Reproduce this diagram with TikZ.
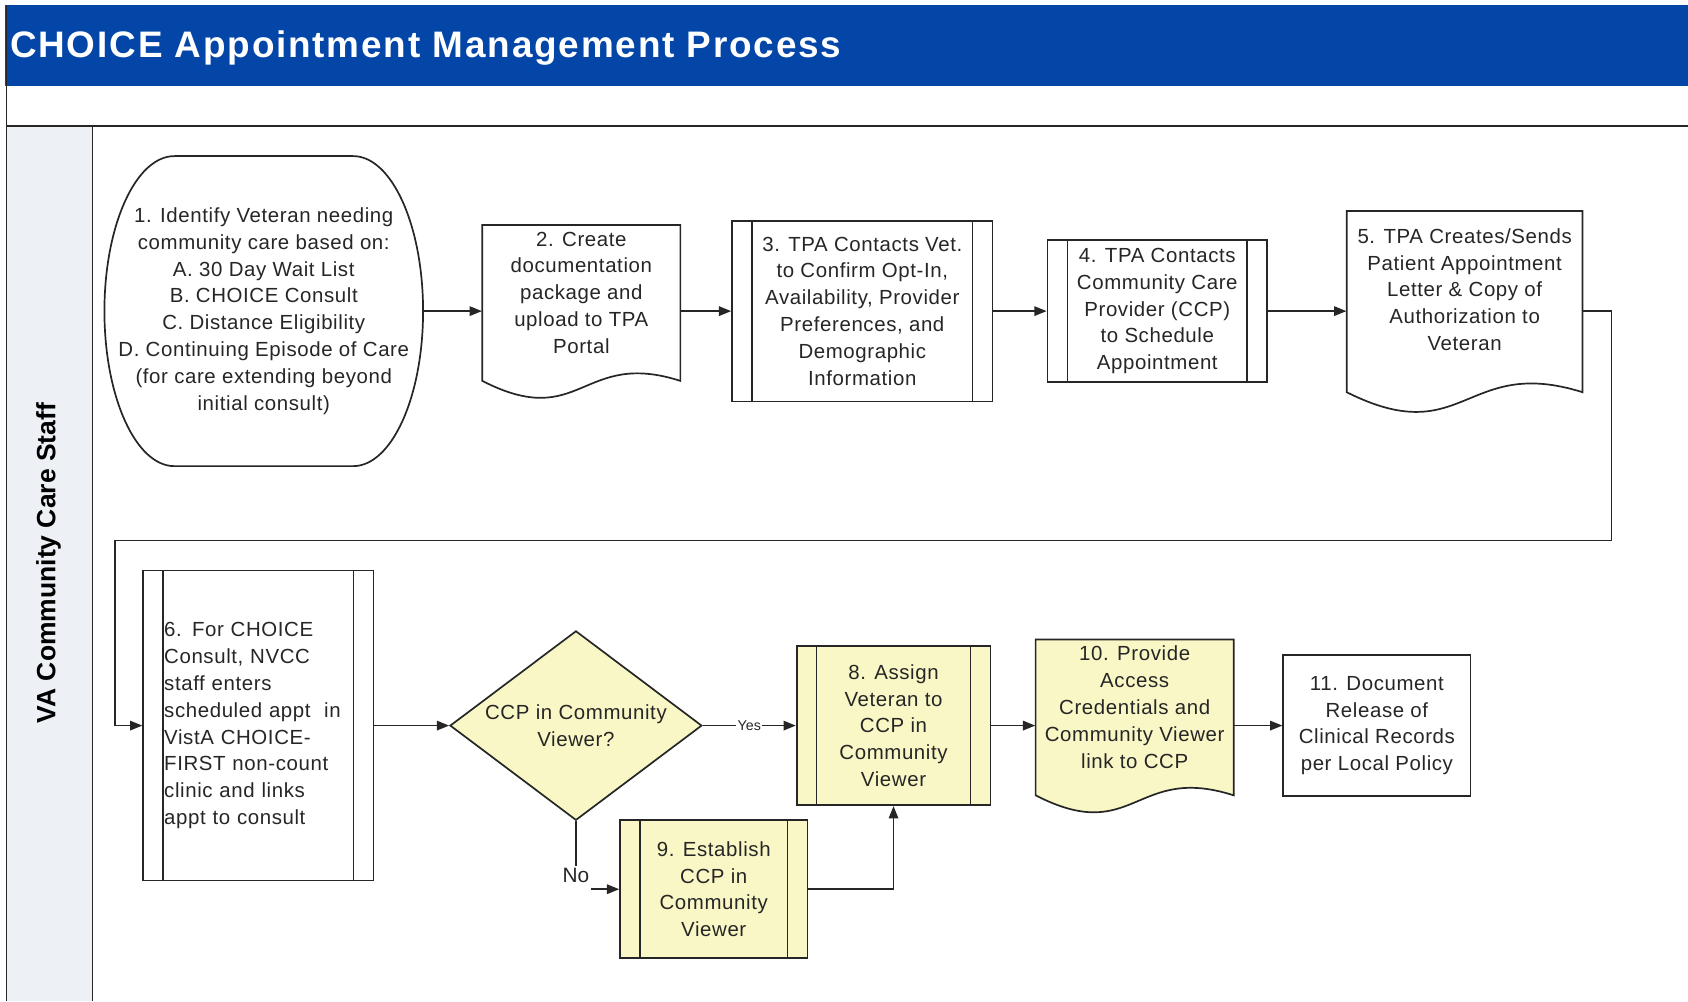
\documentclass[tikz,border=0pt]{standalone}
\usepackage{fontspec}
\setmainfont{Liberation Sans}
\usetikzlibrary{arrows.meta,shapes.geometric}
\definecolor{vablue}{RGB}{4,70,168}
\definecolor{lanegray}{RGB}{237,240,245}
\definecolor{stepyellow}{RGB}{250,247,198}
\definecolor{inkgray}{RGB}{38,38,38}
\newcommand{\docshape}[5]{%
  \draw [line, fill=#1] (#2,#4) -- (#3,#4) -- (#3,{#4+0.905*(#5-#4)})
    .. controls ({(#2+#3)/2},{#4+0.72*(#5-#4)}) and ({(#2+#3)/2},{#4+1.2*(#5-#4)}) .. (#2,{#4+0.905*(#5-#4)}) -- cycle ;}
\begin{document}
\begin{tikzpicture}[x=0.02cm, y=-0.02cm,
    line/.style={draw=inkgray, line width=0.9pt},
    txt/.style={text=inkgray, align=center, inner sep=0pt,
      font=\fontsize{10.8}{14.2}\selectfont\addfontfeature{LetterSpace=3}},
    procbox/.style={txt, line, fill=white},
    subproc/.style={procbox, path picture={
      \draw [line] ([xshift=0.37cm]path picture bounding box.north west) -- ([xshift=0.37cm]path picture bounding box.south west) ;
      \draw [line] ([xshift=-0.37cm]path picture bounding box.north east) -- ([xshift=-0.37cm]path picture bounding box.south east) ;}},
    decision/.style={txt, line, diamond, shape aspect=1.33, fill=stepyellow},
    arr/.style={line, -{Triangle[length=6.5pt, width=5pt]}},
    yeslbl/.style={text=inkgray, fill=white, inner sep=0.8pt, font=\fontsize{7.5}{9}\selectfont},
    nolbl/.style={text=inkgray, fill=white, inner sep=1pt, text height=8pt, text depth=15pt, font=\fontsize{11}{13}\selectfont},
  ]
  \useasboundingbox (0,0) rectangle (1568,930) ;
  \fill [vablue] (5,5) rectangle (1568,80) ;
  \fill [lanegray] (6,117) rectangle (86,930) ;
  \draw [line] (6,5) -- (6,930) ;
  \draw [line] (6,117) -- (1568,117) ;
  \draw [line] (86,117) -- (86,930) ;
  \node [text=white, inner sep=0pt, anchor=base west, font=\fontsize{19.5}{22}\selectfont\bfseries\addfontfeature{LetterSpace=5}] (title) at (9,53) {CHOICE Appointment Management Process} ;
  \node [text=black, rotate=90, font=\fontsize{14}{16}\selectfont\bfseries] (lane) at (45,523) {VA Community Care Staff} ;

  \draw [line, fill=white] (162,145) -- (328,145) arc [start angle=-90, end angle=90, x radius=65, y radius=144] -- (162,433) arc [start angle=90, end angle=270, x radius=65, y radius=144] -- cycle ;
  \node [txt, minimum width=5.92cm, minimum height=5.76cm] (n1) at (245,289) {1. Identify Veteran needing\\community care based on:\\A. 30 Day Wait List\\B. CHOICE Consult\\C. Distance Eligibility\\D. Continuing Episode of Care\\(for care extending beyond\\initial consult)} ;
  \docshape{white}{448}{632}{209}{369}
  \node [txt, minimum width=3.68cm, minimum height=3.2cm] (n2) at (540,289) {} ;
  \node [txt] (t2) at (540,272) {2. Create\\documentation\\package and\\upload to TPA\\Portal} ;
  \node [subproc, minimum width=4.84cm, minimum height=3.36cm] (n3) at (801,289) {3. TPA Contacts Vet.\\to Confirm Opt-In,\\Availability, Provider\\Preferences, and\\Demographic\\Information} ;
  \node [subproc, minimum width=4.08cm, minimum height=2.64cm] (n4) at (1075,289) {4. TPA Contacts\\Community Care\\Provider (CCP)\\to Schedule\\Appointment} ;
  \docshape{white}{1251}{1470}{196}{382}
  \node [txt, minimum width=4.38cm, minimum height=3.72cm] (n5) at (1360.5,289) {} ;
  \node [txt] (t5) at (1360.5,269) {5. TPA Creates/Sends\\Patient Appointment\\Letter \& Copy of\\Authorization to\\Veteran} ;

  \node [subproc, text width=3.5cm, align=left, minimum width=4.28cm, minimum height=5.76cm] (n6) at (240,674) {6. For CHOICE\\Consult, NVCC\\staff enters\\scheduled appt~ in\\VistA CHOICE-\\FIRST non-count\\clinic and links\\appt to consult} ;
  \node [decision, minimum width=4.68cm, minimum height=3.52cm] (dec) at (535,674) {CCP in Community\\Viewer?} ;
  \node [subproc, fill=stepyellow, minimum width=3.6cm, minimum height=2.96cm] (n8) at (830,674) {8. Assign\\Veteran to\\CCP in\\Community\\Viewer} ;
  \node [subproc, fill=stepyellow, minimum width=3.48cm, minimum height=2.56cm] (n9) at (663,826) {9. Establish\\CCP in\\Community\\Viewer} ;
  \docshape{stepyellow}{962}{1146}{594}{754}
  \node [txt, minimum width=3.68cm, minimum height=3.2cm] (n10) at (1054,674) {} ;
  \node [txt] (t10) at (1054,657) {10. Provide\\Access\\Credentials and\\Community Viewer\\link to CCP} ;
  \node [procbox, minimum width=3.48cm, minimum height=2.62cm] (n11) at (1279,674) {11. Document\\Release of\\Clinical Records\\per Local Policy} ;

  \draw [arr] (n1) -- (n2) ;
  \draw [arr] (n2) -- (n3) ;
  \draw [arr] (n3) -- (n4) ;
  \draw [arr] (n4) -- (n5) ;
  \coordinate (loopR) at (1497,502) ;
  \coordinate (loopL) at (107,502) ;
  \draw [arr] (n5.east) -| (loopR) -- (loopL) |- (n6.west) ;
  \draw [arr] (n6) -- (dec) ;
  \draw [arr] (dec) -- node [yeslbl] (yes) {Yes} (n8) ;
  \draw [arr] (dec.south) |- node [nolbl, pos=0.5] (no) {No} (n9.west) ;
  \draw [arr] (n9.east) -| (n8.south) ;
  \draw [arr] (n8) -- (n10) ;
  \draw [arr] (n10) -- (n11) ;
\end{tikzpicture}
\end{document}
